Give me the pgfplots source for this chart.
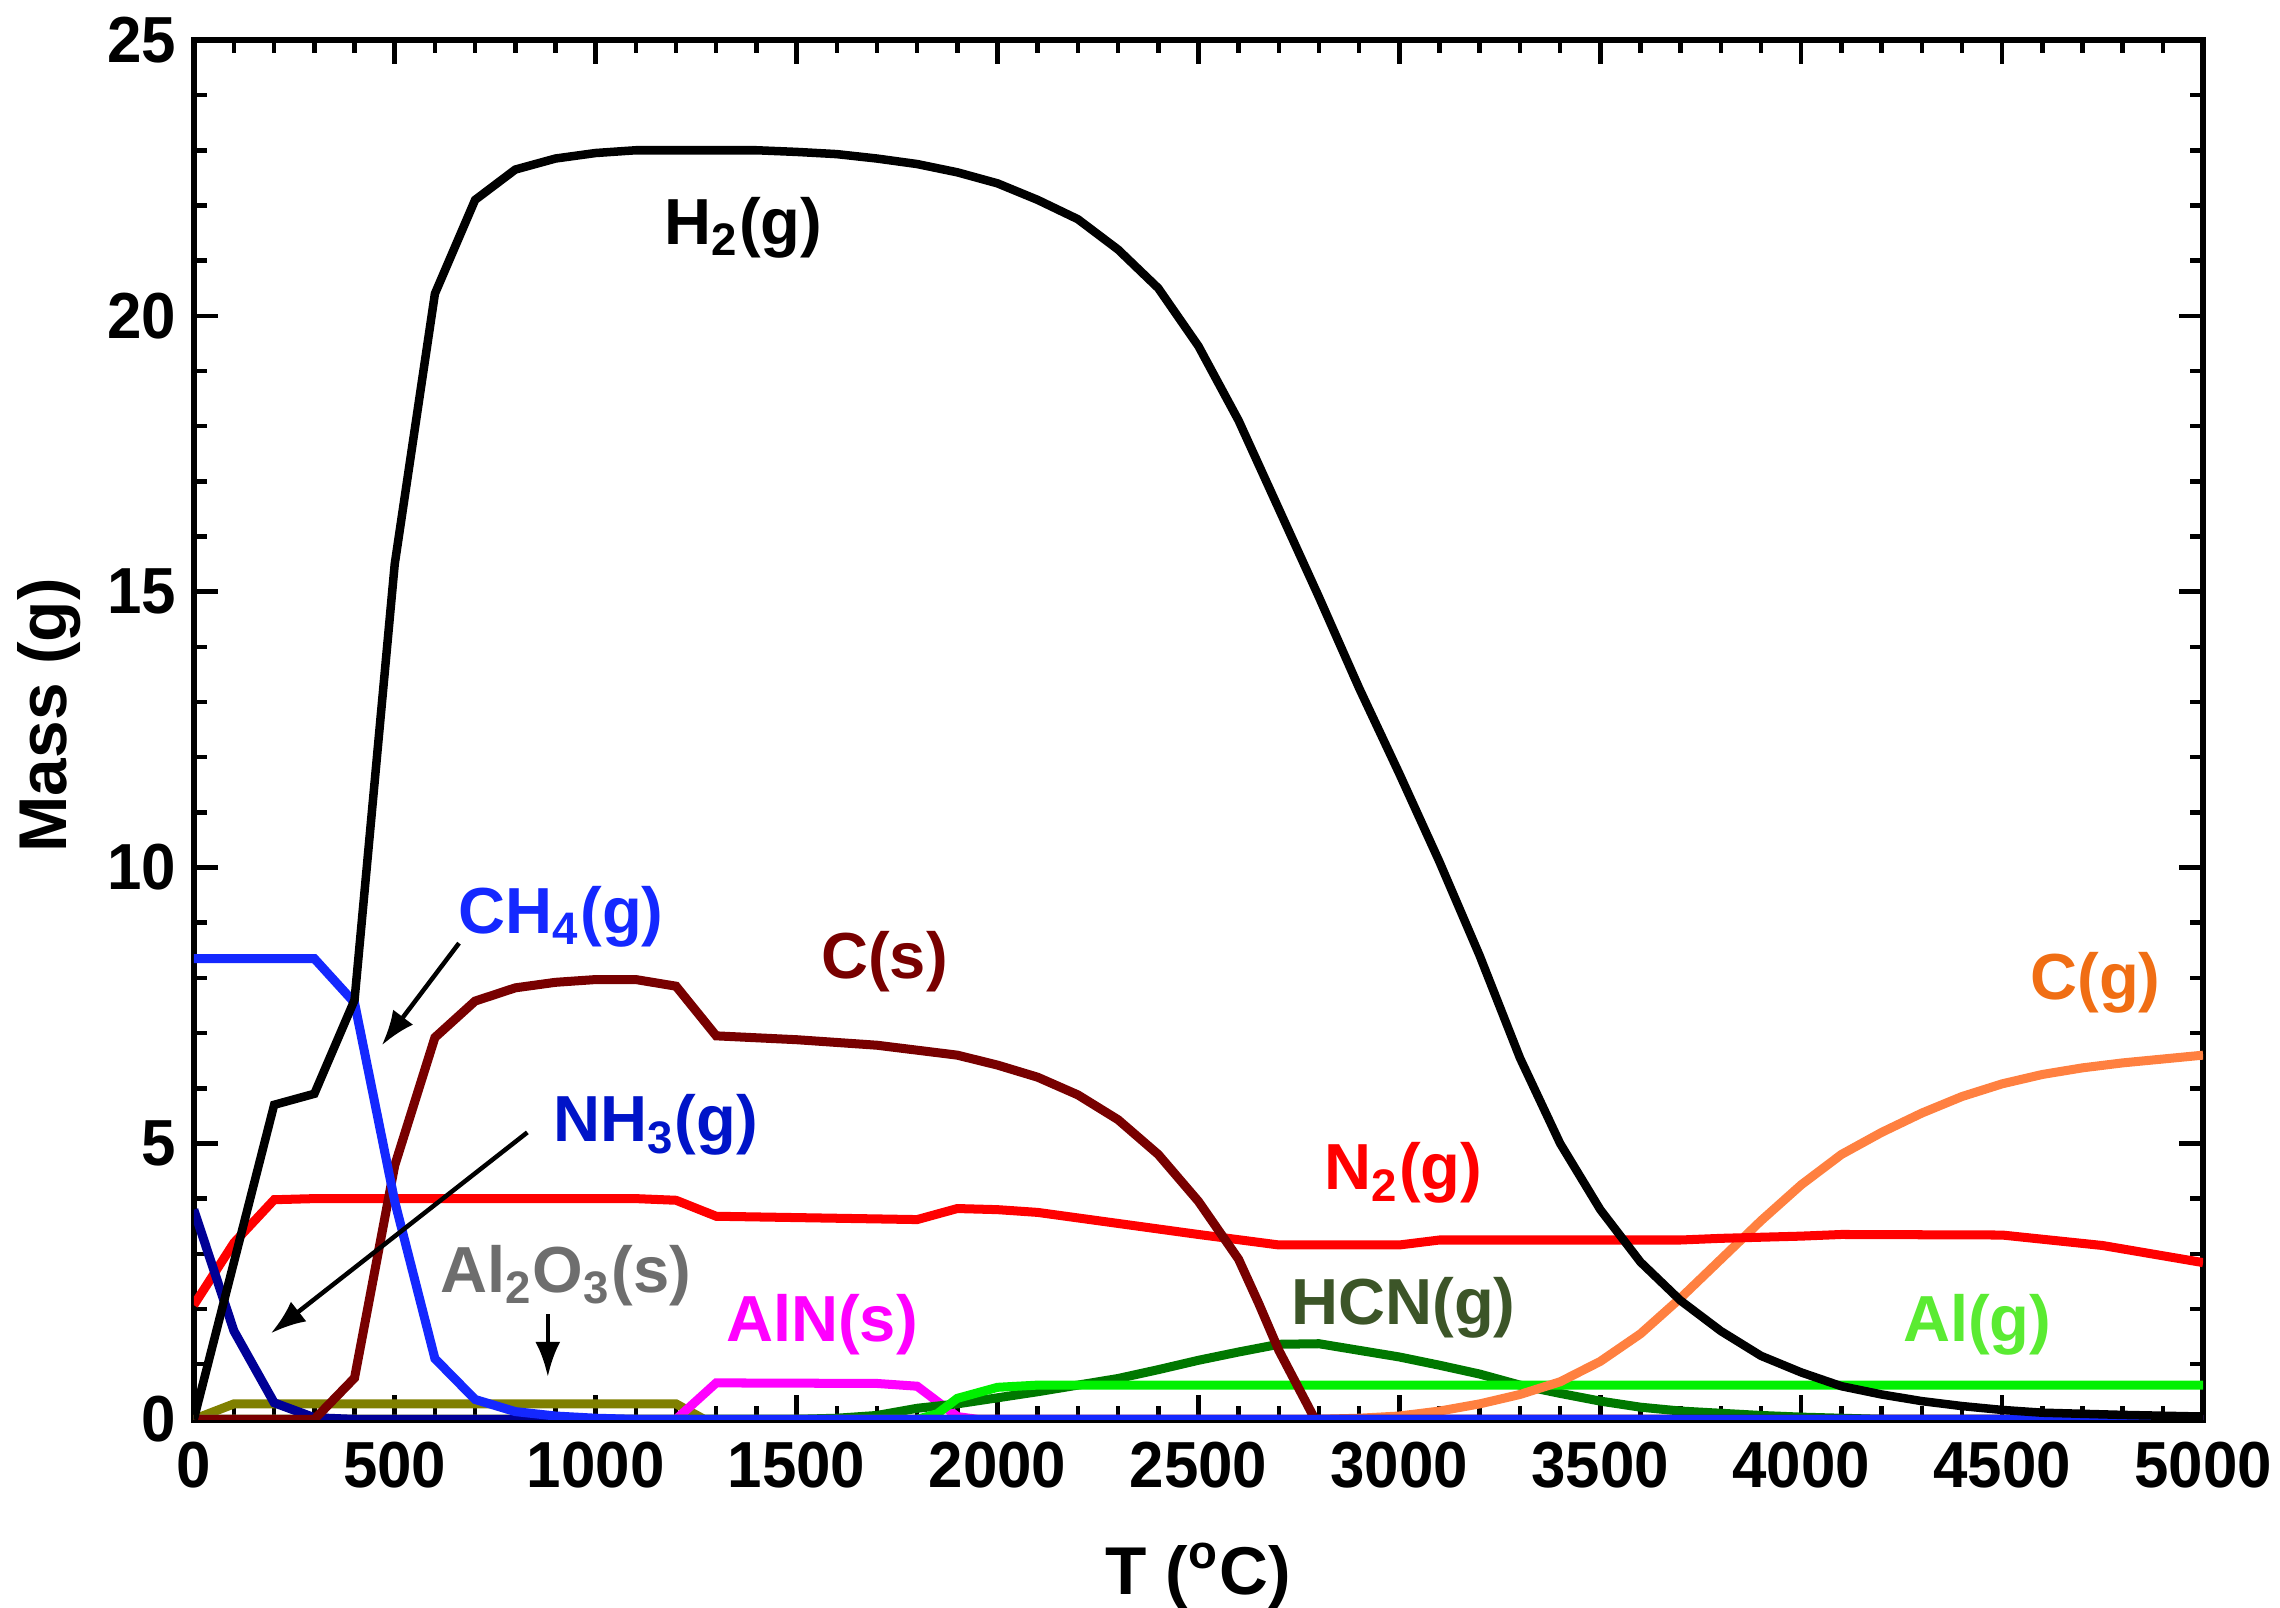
\documentclass[border=0pt]{standalone}
\usepackage{fontspec}
\setmainfont{Liberation Sans}
\newfontfamily\tickfont{Liberation Sans}[FakeStretch=0.95]
\usepackage{pgfplots}
\pgfplotsset{compat=1.18}
\usetikzlibrary{arrows.meta}

\definecolor{ch4}{RGB}{20,40,255}
\definecolor{nh3}{RGB}{0,0,150}
\definecolor{nh3lab}{RGB}{0,20,200}
\definecolor{cs}{RGB}{120,0,0}
\definecolor{olive2}{RGB}{128,128,0}
\definecolor{graylab}{RGB}{110,110,110}
\definecolor{aln}{RGB}{255,0,255}
\definecolor{hcn}{RGB}{0,120,0}
\definecolor{hcnlab}{RGB}{60,85,40}
\definecolor{alg}{RGB}{0,240,0}
\definecolor{alglab}{RGB}{90,235,50}
\definecolor{cg}{RGB}{255,128,64}
\definecolor{cglab}{RGB}{240,110,20}

\begin{document}
\begin{tikzpicture}[
    lab/.style={font=\bfseries\fontsize{13}{15}\selectfont},
    arr/.style={-{Latex[length=7pt,width=5pt]}, line width=0.9pt, black}
  ]
\begin{axis}[
    scale only axis,
    width=14.1cm, height=9.68cm,
    xmin=0, xmax=5000, ymin=0, ymax=25,
    xtick={0,500,...,5000}, ytick={0,5,...,25},
    minor x tick num=4, minor y tick num=4,
    tick align=inside, tick pos=both,
    major tick length=0.17cm, minor tick length=0.09cm,
    every tick/.style={black, line width=0.9pt},
    axis line style={line width=1.3pt},
    /pgf/number format/assume math mode=true,
    /pgf/number format/1000 sep={},
    tick label style={font=\tickfont\bfseries\fontsize{13}{15}\selectfont},
    xticklabel style={yshift=-1pt},
    xlabel={T (\textsuperscript{o}C)},
    ylabel={Mass (g)},
    label style={font=\bfseries\fontsize{13.5}{15}\selectfont},
    xlabel style={yshift=-4pt},
    ylabel style={yshift=-1.5pt, xshift=0.1cm},
    every axis plot/.style={line width=1.8pt, mark=none},
    clip=true,
  ]
% Al2O3(s)
\addplot[olive2] coordinates {(0,0) (100,0.28) (1200,0.28) (1270,0) (5000,0)};
% AlN(s)
\addplot[aln] coordinates {(0,0) (1200,0) (1300,0.66) (1700,0.65) (1800,0.6) (1900,0.05) (1950,0) (5000,0)};
% HCN(g)
\addplot[hcn] coordinates {(0,0) (1500,0) (1600,0.02) (1700,0.07) (1800,0.2) (1900,0.28) (2000,0.39)
  (2100,0.5) (2200,0.62) (2300,0.74) (2400,0.9) (2500,1.07) (2600,1.22) (2700,1.36) (2800,1.37)
  (2900,1.25) (3000,1.13) (3100,0.98) (3200,0.82) (3300,0.62) (3400,0.47) (3500,0.33) (3600,0.22)
  (3700,0.15) (3800,0.11) (3900,0.07) (4000,0.04) (4200,0) (5000,0)};
% Al(g)
\addplot[alg] coordinates {(0,0) (1800,0) (1850,0.1) (1900,0.38) (2000,0.58) (2100,0.62) (5000,0.62)};
% C(g)
\addplot[cg] coordinates {(0,0) (2800,0) (2900,0.02) (3000,0.06) (3100,0.15) (3200,0.28) (3300,0.45)
  (3400,0.68) (3500,1.05) (3600,1.55) (3700,2.2) (3800,2.9) (3900,3.6) (4000,4.25) (4100,4.8)
  (4200,5.2) (4300,5.55) (4400,5.85) (4500,6.08) (4600,6.25) (4700,6.37) (4800,6.46) (4900,6.53) (5000,6.6)};
% N2(g)
\addplot[red] coordinates {(0,2.07) (100,3.2) (200,3.98) (300,4.0) (1100,4.0) (1200,3.97) (1300,3.68)
  (1800,3.62) (1900,3.82) (2000,3.8) (2100,3.75) (2300,3.55) (2500,3.35) (2700,3.16) (3000,3.16)
  (3100,3.25) (3700,3.25) (3800,3.28) (4000,3.32) (4100,3.35) (4500,3.34) (4750,3.15) (5000,2.84)};
% NH3(g)
\addplot[nh3] coordinates {(0,3.8) (100,1.6) (200,0.3) (300,0.03) (400,0) (5000,0)};
% C(s)
\addplot[cs] coordinates {(0,0) (300,0) (400,0.75) (500,4.6) (600,6.92) (700,7.58) (800,7.82) (900,7.92)
  (1000,7.97) (1100,7.97) (1200,7.85) (1300,6.95) (1500,6.88) (1700,6.78) (1900,6.6) (2000,6.42)
  (2100,6.2) (2200,5.88) (2300,5.43) (2400,4.8) (2500,3.95) (2600,2.9) (2650,2.1) (2700,1.25)
  (2790,0) (5000,0)};
% CH4(g)
\addplot[ch4] coordinates {(0,8.35) (300,8.35) (400,7.55) (500,3.95) (600,1.1) (700,0.36) (800,0.14)
  (900,0.06) (1000,0.02) (1100,0) (5000,0)};
% H2(g)
\addplot[black, line width=1.7pt] coordinates {(0,0) (100,2.85) (200,5.7) (300,5.9) (400,7.6) (500,15.5)
  (600,20.4) (700,22.1) (800,22.65) (900,22.85) (1000,22.95) (1100,23.0) (1400,23.0) (1500,22.97)
  (1600,22.93) (1700,22.85) (1800,22.75) (1900,22.6) (2000,22.4) (2100,22.1) (2200,21.75) (2300,21.2)
  (2400,20.5) (2500,19.45) (2600,18.1) (2700,16.5) (2800,14.9) (2900,13.25) (3000,11.7) (3100,10.1)
  (3200,8.4) (3300,6.55) (3400,5.0) (3500,3.8) (3600,2.85) (3700,2.15) (3800,1.6) (3900,1.15)
  (4000,0.85) (4100,0.6) (4200,0.45) (4300,0.33) (4400,0.24) (4500,0.17) (4600,0.12) (4800,0.08) (5000,0.05)};

% labels
\node[lab, black]   at (axis cs:1367,21.6) {H\textsubscript{2}(g)};
\node[lab, ch4]     at (axis cs:914,9.1)   {CH\textsubscript{4}(g)};
\node[lab, cs]      at (axis cs:1719,8.3)  {C(s)};
\node[lab, nh3lab]  at (axis cs:1149,5.33) {NH\textsubscript{3}(g)};
\node[lab, graylab] at (axis cs:925,2.6)   {Al\textsubscript{2}O\textsubscript{3}(s)};
\node[lab, aln]     at (axis cs:1563,1.72) {AlN(s)};
\node[lab, red]     at (axis cs:3010,4.46) {N\textsubscript{2}(g)};
\node[lab, hcnlab]  at (axis cs:3010,2.03) {HCN(g)};
\node[lab, alglab]  at (axis cs:4438,1.72) {Al(g)};
\node[lab, cglab]   at (axis cs:4732,7.92) {C(g)};
\draw[arr] (axis cs:660,8.63) -- (axis cs:468,6.78);
\draw[arr] (axis cs:830,5.2) -- (axis cs:192,1.56);
\draw[arr] (axis cs:881,1.9) -- (axis cs:881,0.77);
\end{axis}
\pgfresetboundingbox
\useasboundingbox ([xshift=-1.36cm,yshift=-1.32cm]current axis.south west)
  rectangle ([xshift=0.54cm,yshift=0.28cm]current axis.north east);
\end{tikzpicture}
\end{document}
